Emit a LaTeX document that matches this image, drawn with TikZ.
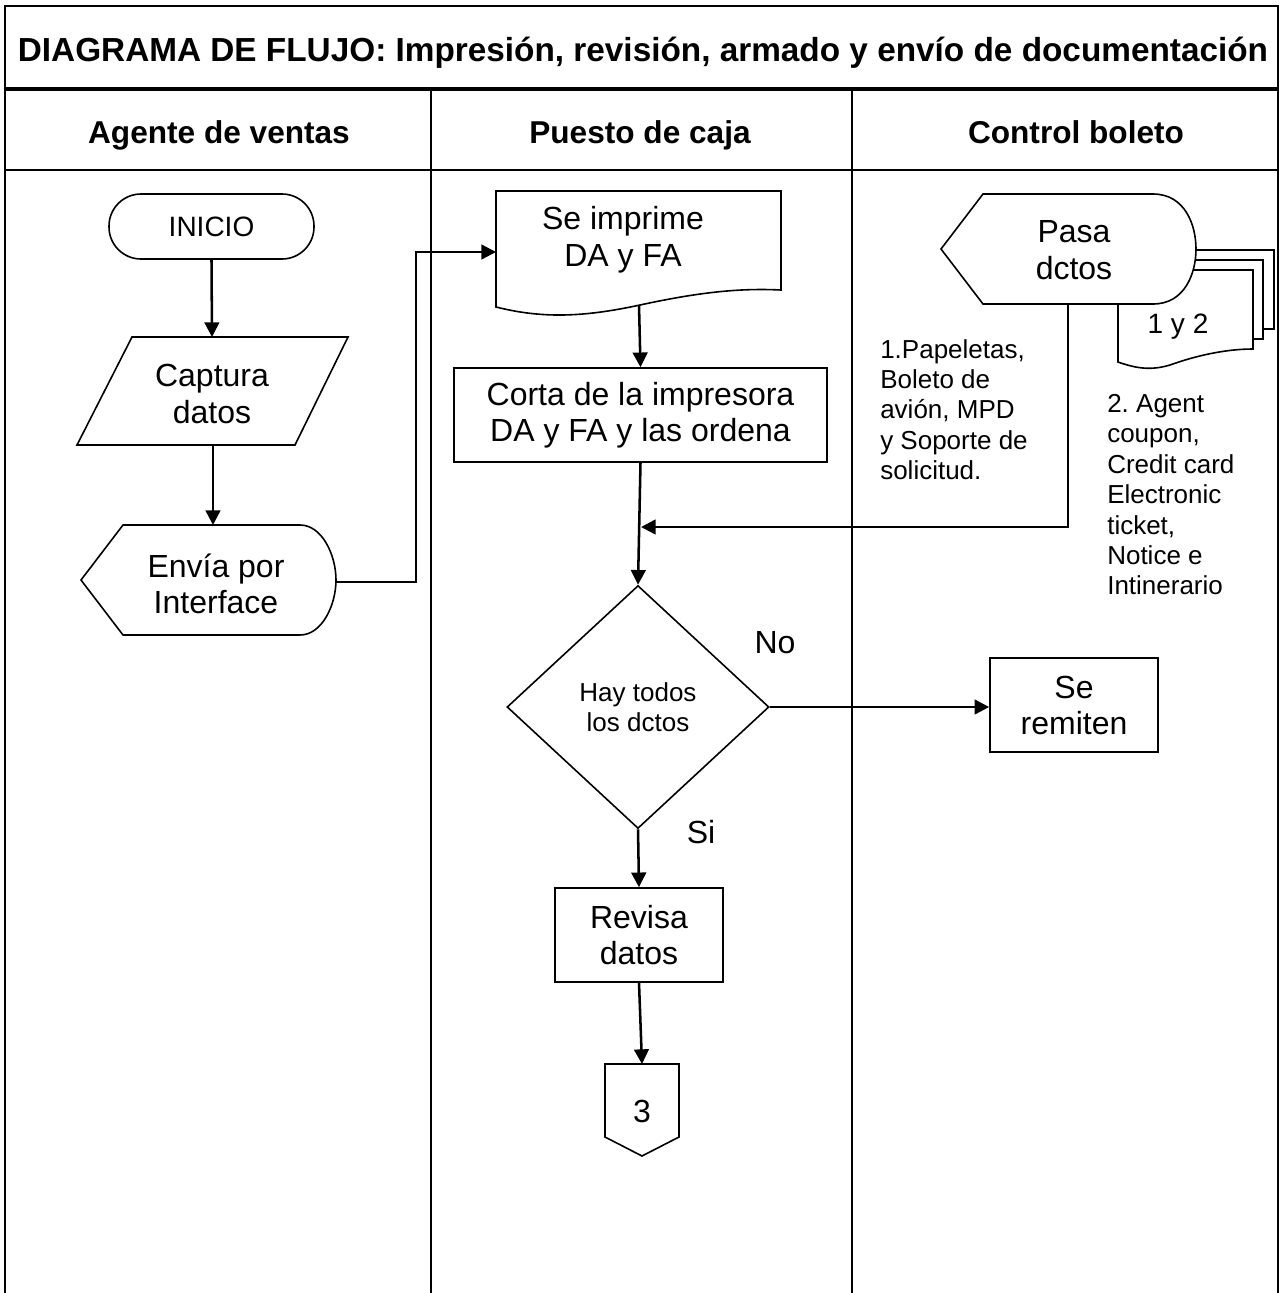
\documentclass[tikz,border=0pt]{standalone}
\usepackage{fontspec}
\setmainfont{Liberation Sans}
\usetikzlibrary{arrows.meta,shapes.geometric}
\frenchspacing
\begin{document}
\begin{tikzpicture}[x=0.75pt,y=-0.75pt,
  lane/.style={line width=1.5pt},
  shp/.style={draw, line width=1.2pt, fill=white},
  box/.style={draw, line width=1.2pt, fill=white, inner sep=0pt,
    align=center, font=\fontsize{24}{27}\selectfont},
  arr/.style={line width=1.9pt, -{Triangle[length=11pt,width=11pt]}},
  txt/.style={align=center, inner sep=0pt, font=\fontsize{24}{27.5}\selectfont},
  hdr/.style={inner sep=0pt, anchor=base, font=\bfseries\fontsize{23.7}{28}\selectfont},
  ttl/.style={inner sep=0pt, anchor=base, font=\bfseries\fontsize{25}{30}\selectfont},
  note/.style={align=left, inner sep=0pt, font=\fontsize{19.5}{22.8}\selectfont},
  lbl/.style={inner sep=0pt, anchor=base, font=\fontsize{24}{28}\selectfont}]
\useasboundingbox (0,0) rectangle (1284,1293);

% swimlane frame
\draw[lane] (5,1293) -- (5,6) -- (1278,6) -- (1278,1293);
\draw[line width=2.3pt] (5,89) -- (1278,89);
\draw[lane] (5,170) -- (1278,170);
\draw[lane] (431,89) -- (431,1293);
\draw[lane] (852,89) -- (852,1293);

\node[ttl] (title) at (643,61) {DIAGRAMA DE FLUJO: Impresión, revisión, armado y envío de documentación};
\node[hdr] (lane1) at (219,143) {Agente de ventas};
\node[hdr] (lane2) at (640,143) {Puesto de caja};
\node[hdr] (lane3) at (1076,143) {Control boleto};

% Agente de ventas
\node[draw, line width=1.2pt, rounded corners=24pt, minimum width=153.75pt,
  minimum height=48.75pt, inner sep=0pt, font=\fontsize{21}{25}\selectfont]
  (inicio) at (211.5,226.5) {INICIO};

\draw[shp] (132,337) -- (348,337) -- (295,445) -- (77,445) -- cycle;
\node[txt] (captura) at (212,394) {Captura\\datos};
\coordinate (captura-n) at (212,337);
\coordinate (captura-s) at (213,445);

\draw[shp] (81,580) -- (123,525) -- (300,525)
  .. controls (322,525) and (336,555) .. (336,580)
  .. controls (336,605) and (322,635) .. (300,635) -- (123,635) -- cycle;
\node[txt] (envia) at (216,584) {Envía por\\Interface};
\coordinate (envia-n) at (213,525);
\coordinate (envia-e) at (336,582);

% Puesto de caja
\draw[shp] (496,191) -- (781,191) -- (781,290)
  .. controls (740,288) and (700,292) .. (640,305)
  .. controls (580,318) and (540,318) .. (496,307) -- cycle;
\node[txt] (imprime) at (623,240) {Se imprime\\DA y FA};
\coordinate (imprime-w) at (496,252);
\coordinate (imprime-s) at (639,305);

\node[box, minimum width=279.75pt, minimum height=70.5pt] (corta) at (640.5,415)
  {Corta de la impresora\\DA y FA y las ordena};

\node[diamond, draw, line width=1.2pt, fill=white, minimum width=196.5pt,
  minimum height=182.25pt, inner sep=0pt, align=center,
  font=\fontsize{19.5}{22.5}\selectfont] (dec) at (638,707) {Hay todos\\los dctos};
\node[lbl] (no) at (775,653) {No};
\node[lbl] (si) at (701,843) {Si};

\node[box, minimum width=126pt, minimum height=70.5pt] (revisa) at (639,935)
  {Revisa\\datos};

\draw[shp] (605,1064) -- (679,1064) -- (679,1137) -- (642,1156) -- (605,1137) -- cycle;
\node[lbl] (page3) at (642,1122) {3};
\coordinate (page3-n) at (642,1064);

% Control boleto
\draw[shp] (1150,250) rectangle (1274,329);
\draw[shp] (1140,260) rectangle (1263,339);
\draw[shp] (1118,270) -- (1253,270) -- (1253,349)
  .. controls (1225,349) and (1195,356) .. (1170,365)
  .. controls (1150,371) and (1135,368) .. (1118,362) -- cycle;
\node[lbl, font=\fontsize{21}{25}\selectfont] (docs) at (1178,333) {1 y 2};

\draw[shp] (941,249) -- (983,194) -- (1153,194)
  .. controls (1185,194) and (1196,225) .. (1196,249)
  .. controls (1196,273) and (1185,304) .. (1153,304) -- (983,304) -- cycle;
\node[txt] (pasa) at (1074,250) {Pasa\\dctos};
\coordinate (pasa-s) at (1068,304);

\node[box, minimum width=126pt, minimum height=70.5pt] (remiten) at (1074,705)
  {Se\\remiten};

\node[note, anchor=north west] (list1) at (880,339)
  {1.Papeletas,\\Boleto de\\avión, MPD\\y Soporte de\\solicitud.};
\node[note, anchor=north west] (list2) at (1107,394)
  {2. Agent\\coupon,\\Credit card\\Electronic\\ticket,\\Notice e\\Intinerario};

% connectors
\coordinate (merge) at (641,527);
\draw[arr] (inicio.south) -- (captura-n);
\draw[arr] (captura-s) -- (envia-n);
\draw[arr] (envia-e) -- ++(80,0) |- (imprime-w);
\draw[arr] (imprime-s) -- (corta.north);
\draw[arr] (corta.south) -- (dec.north);
\draw[arr] (pasa-s) |- (merge);
\draw[arr] (dec.east) -- (dec.east -| remiten.west);
\draw[arr] (dec.south) -- (revisa.north);
\draw[arr] (revisa.south) -- (page3-n);
\end{tikzpicture}
\end{document}
